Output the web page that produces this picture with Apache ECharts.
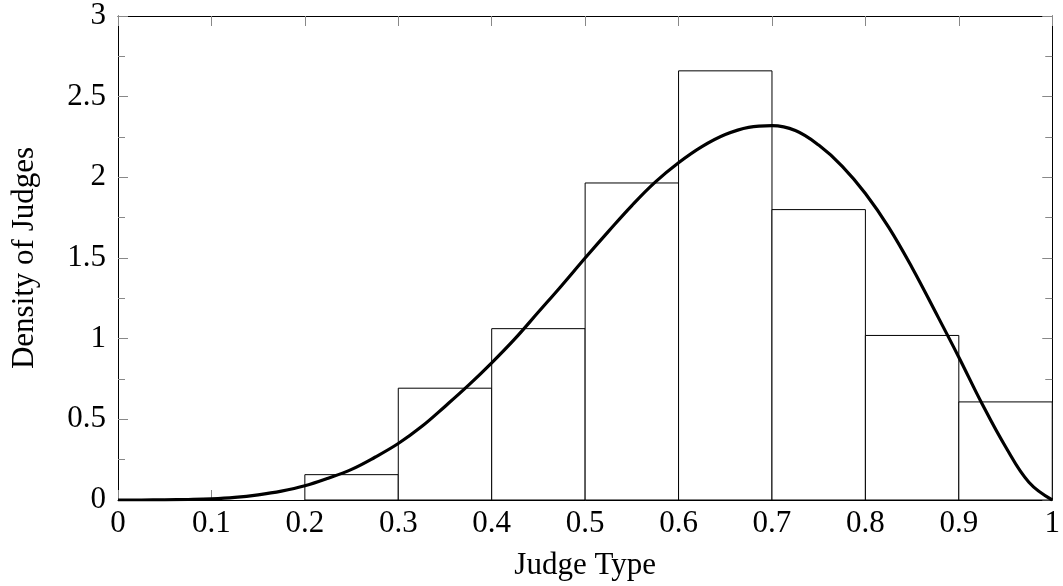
<!DOCTYPE html>
<html>
<head>
<meta charset="utf-8">
<script src="https://cdn.jsdelivr.net/npm/echarts@6/dist/echarts.min.js"></script>
<style>
  html, body { margin: 0; padding: 0; background: #fff; }
  #chart { width: 1063px; height: 586px; }
</style>
</head>
<body>
<div id="chart"></div>
<script>
// histogram bins
var binLeft = [0.2, 0.3, 0.4, 0.5, 0.6, 0.7, 0.8, 0.9]
var binRight = [0.3, 0.4, 0.5, 0.6, 0.7, 0.8, 0.9, 1.0]
var density = [0.157, 0.693, 1.062, 1.965, 2.66, 1.80, 1.02, 0.608]

// fitted density curve
var curveX = [0, 0.025, 0.05, 0.075, 0.1, 0.125, 0.15, 0.175, 0.2, 0.225, 0.25, 0.275,
  0.3, 0.325, 0.35, 0.375, 0.4, 0.425, 0.45, 0.475, 0.5, 0.525, 0.55, 0.575,
  0.6, 0.625, 0.65, 0.675, 0.7, 0.725, 0.75, 0.775, 0.8, 0.825, 0.85, 0.875,
  0.9, 0.925, 0.95, 0.975, 1.0]
var curveY = [0, 0, 0.001, 0.003, 0.007, 0.016, 0.032, 0.055, 0.088, 0.135, 0.19, 0.265,
  0.35, 0.455, 0.58, 0.71, 0.85, 1.0, 1.165, 1.33, 1.5, 1.665, 1.825, 1.97,
  2.09, 2.19, 2.265, 2.31, 2.32, 2.29, 2.2, 2.07, 1.9, 1.69, 1.44, 1.165,
  0.885, 0.595, 0.33, 0.11, 0]

var fontFamily = "'Liberation Serif', 'Times New Roman', serif"

var barData = []
for (var i = 0; i < density.length; i++) {
  barData.push([binLeft[i], binRight[i], density[i]])
}
var lineData = []
for (var j = 0; j < curveX.length; j++) {
  lineData.push([curveX[j], curveY[j]])
}

var axisLine = { show: true, onZero: false, lineStyle: { color: '#000', width: 1 } }
var tickStyle = { color: '#888', width: 1 }

var chart = echarts.init(document.getElementById('chart'))
var option = {
  animation: false,
  grid: { left: 118, right: 6, top: 16, bottom: 85 },
  xAxis: [
    {
      type: 'value',
      min: 0,
      max: 1,
      interval: 0.1,
      name: 'Judge Type',
      nameLocation: 'middle',
      nameGap: 50,
      nameTextStyle: { fontFamily: fontFamily, fontSize: 31, color: '#000' },
      axisLine: axisLine,
      axisTick: { show: true, inside: true, length: 10, lineStyle: tickStyle },
      axisLabel: { fontFamily: fontFamily, fontSize: 31, color: '#000', margin: 8 },
      splitLine: { show: false }
    },
    {
      type: 'value',
      position: 'top',
      min: 0,
      max: 1,
      interval: 0.1,
      axisLine: axisLine,
      axisTick: { show: true, inside: true, length: 10, lineStyle: tickStyle },
      axisLabel: { show: false },
      splitLine: { show: false }
    }
  ],
  yAxis: [
    {
      type: 'value',
      min: 0,
      max: 3,
      interval: 0.5,
      name: 'Density of Judges',
      nameLocation: 'middle',
      nameGap: 78,
      nameTextStyle: { fontFamily: fontFamily, fontSize: 31, color: '#000' },
      axisLine: axisLine,
      axisTick: { show: true, inside: true, length: 10, lineStyle: tickStyle },
      minorTick: { show: true, splitNumber: 2, length: 7, lineStyle: tickStyle },
      axisLabel: { fontFamily: fontFamily, fontSize: 31, color: '#000', margin: 12 },
      splitLine: { show: false }
    },
    {
      type: 'value',
      position: 'right',
      min: 0,
      max: 3,
      interval: 0.5,
      axisLine: axisLine,
      axisTick: { show: true, inside: true, length: 10, lineStyle: tickStyle },
      minorTick: { show: true, splitNumber: 2, length: 7, lineStyle: tickStyle },
      axisLabel: { show: false },
      splitLine: { show: false }
    }
  ],
  series: [
    {
      type: 'custom',
      xAxisIndex: 0,
      yAxisIndex: 0,
      data: barData,
      encode: { x: [0, 1], y: 2 },
      renderItem: function (params, api) {
        var p0 = api.coord([api.value(0), api.value(2)])
        var p1 = api.coord([api.value(1), 0])
        return {
          type: 'rect',
          shape: { x: p0[0], y: p0[1], width: p1[0] - p0[0], height: p1[1] - p0[1] },
          style: { fill: '#fff', stroke: '#000', lineWidth: 1 }
        }
      }
    },
    {
      type: 'line',
      xAxisIndex: 0,
      yAxisIndex: 0,
      data: lineData,
      smooth: 0.4,
      symbol: 'none',
      lineStyle: { color: '#000', width: 3.2 },
      z: 5
    }
  ]
}
chart.setOption(option)
</script>
</body>
</html>
